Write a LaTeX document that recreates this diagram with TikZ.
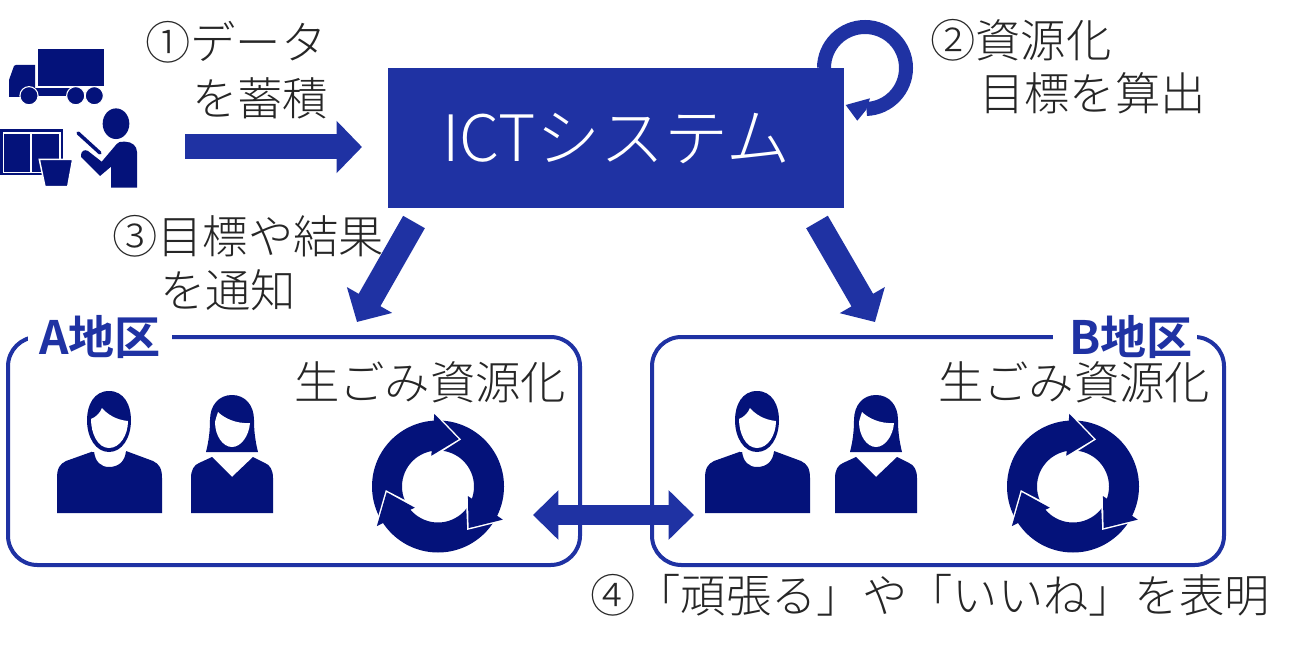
\documentclass[tikz,border=0pt]{standalone}
\usepackage{fontspec}
\usetikzlibrary{arrows.meta}
\setmainfont[BoldFont={Noto Sans CJK JP Bold}]{Noto Sans CJK JP Light}
\definecolor{iconnavy}{HTML}{04127A}
\definecolor{flowblue}{HTML}{1F32A3}
\definecolor{inkgrey}{HTML}{262626}
\tikzset{
  x=0.75pt,y=-0.75pt,
  caption/.style={anchor=west,inner sep=0pt,text=inkgrey,font=\fontsize{34}{40}\selectfont},
  blockarrow/.style={draw=flowblue,line width=18.75pt,-{Triangle[length=19pt,width=38pt]}},
  blockboth/.style={draw=flowblue,line width=15.5pt,{Triangle[length=19pt,width=36pt]}-{Triangle[length=19pt,width=36pt]}},
  district/.style={draw=flowblue,line width=3pt,rounded corners=22pt},
  districttag/.style={fill=white,inner sep=0pt,minimum width=108pt,minimum height=30pt,text=flowblue,font=\bfseries\fontsize{34.5}{40}\selectfont},
  icon/.style={fill=iconnavy,draw=none},
  cutline/.style={draw=white,line width=1.1pt,fill=iconnavy,line join=miter}
}
% Man and woman figures drawn at their place in the left district
\newcommand{\manfigure}{%
  \path[icon] (57,513) -- (57,478) .. controls (57,468) and (60,464) .. (66,461) -- (94,451)
    .. controls (95,462) and (101,467) .. (109,467) .. controls (118,467) and (125,462) .. (126,451)
    -- (153,461) .. controls (159,464) and (162,468) .. (162,478) -- (162,513) -- cycle;
  \path[fill=white] (92,446) rectangle (126,452);
  \path[icon] (109,391) .. controls (124,391) and (131,405) .. (131,420)
    .. controls (131,438) and (122,452) .. (109,452) .. controls (96,452) and (87,438) .. (87,420)
    .. controls (87,405) and (94,391) .. (109,391) -- cycle;
  \path[fill=white] (91,419) .. controls (96,417) and (100,413) .. (102,408)
    .. controls (107,414) and (116,420) .. (128,421) .. controls (128,435) and (120,448) .. (109,448)
    .. controls (98,448) and (91,434) .. (91,419) -- cycle;
}
\newcommand{\womanfigure}{%
  \path[icon] (191,513) -- (191,478) .. controls (191,470) and (194,465) .. (199,463) -- (212,457)
    -- (232,477) -- (253,457) -- (265,463) .. controls (270,465) and (273,470) .. (273,478) -- (273,513) -- cycle;
  \path[icon] (206,452) .. controls (209,440) and (210,430) .. (210,420)
    .. controls (210,405) and (219,395) .. (232,395) .. controls (245,395) and (254,405) .. (254,420)
    .. controls (254,430) and (255,440) .. (258,452) -- cycle;
  \path[fill=white] (215,422) .. controls (216,418) and (217,415) .. (218,412)
    .. controls (224,418) and (236,424) .. (250,423) .. controls (249,436) and (241,447) .. (232,447)
    .. controls (223,447) and (215,436) .. (215,422) -- cycle;
}
% Ring of three chasing arrows around a local origin
\newcommand{\cycleicon}{%
  \path[icon,even odd rule] (0,0) circle[radius=49.5pt] (0,0) circle[radius=27pt];
  \foreach \turn in {0,-120,-240}{
    \begin{scope}[rotate=\turn]
      \draw[white,line width=2.2pt,line join=miter] (-5,-74) -- (20.7,-47.3) -- (-8,-29);
      \path[icon] (-3.7,-72.7) -- (20.7,-47.3) -- (-6.7,-30.7) -- cycle;
    \end{scope}
  }
}
\begin{document}
\begin{tikzpicture}
\useasboundingbox (0,0) rectangle (1299,652);

% Delivery truck
\path[icon] (37.7,49) rectangle (104,85.7);
\path[icon] (9,97) -- (9,80) -- (14,66) -- (16,65) -- (35,65) -- (35,97) -- cycle;
\path[icon] (35,88) rectangle (72,96);
\foreach \wx in {29,75.7,94.3}
  \draw[icon,draw=white,line width=0.8pt] (\wx,95.7) circle[radius=6.8pt];

% Shelf, bucket and worker with a pointer
\path[icon] (0,129) rectangle (62.7,175);
\draw[white,line width=1.1pt] (3.6,133) rectangle (60,172.4) (31,133) -- (31,172.4);
\path[cutline] (39.3,159.3) -- (72.7,159.3) -- (67.7,186.7) -- (45,186.7) -- cycle;
\path[icon] (116,123.7) ellipse[x radius=10pt,y radius=11.5pt];
\path[icon] (111,187.7) -- (137,187.7) -- (137,152) .. controls (137,146) and (132,141.7) .. (125,141.7)
  .. controls (120,141.7) and (118,142) .. (116.7,144) -- (101.7,161.7) -- (88,151)
  .. controls (85,149) and (81,151) .. (81,155) -- (81,157) -- (100,176) -- (111,166.7) -- cycle;
\draw[iconnavy,line width=2.6pt,line cap=round] (78,133) -- (100,153);

% Central system block
\node[fill=flowblue,minimum width=342pt,minimum height=105pt,inner sep=0pt,anchor=north west,
      text=white,font=\fontsize{48}{56}\selectfont] (ict) at (388,68) {ICTシステム};

% District frames with their headings
\draw[district] (8,337) rectangle (580,565);
\draw[district] (652,337) rectangle (1224,565);
\node[districttag,anchor=center] (taga) at (100,337) {A地区};
\node[districttag,anchor=center] (tagb) at (1125,337) {\hspace{9pt}B地区};

\manfigure
\womanfigure
\begin{scope}[shift={(438,486.5)}]\cycleicon\end{scope}
\begin{scope}[shift={(648,0)}]\manfigure\end{scope}
\begin{scope}[shift={(644,0)}]\womanfigure\end{scope}
\begin{scope}[shift={(1073,486.5)}]\cycleicon\end{scope}

% Flow arrows
\coordinate (dataout) at (185,147);
\coordinate (datain) at (362,147);
\draw[blockarrow] (dataout) -- (datain);
\coordinate (downla) at (414,222);
\coordinate (downlb) at (357,322);
\draw[blockarrow] (downla) -- (downlb);
\coordinate (downra) at (817,222);
\coordinate (downrb) at (875,322);
\draw[blockarrow] (downra) -- (downrb);
\coordinate (shareA) at (533,515);
\coordinate (shareB) at (694,515);
\draw[blockboth] (shareA) -- (shareB);

% Loop over the corner of the block
\draw[flowblue,line width=10.5pt]
  (824,68) arc[start angle=180,end angle=-88,radius=30.75pt];
\fill[flowblue] (845.7,105) -- (870,98.3) -- (866,110) -- (857.3,120.7) -- cycle;

% Captions
\node[caption] (c1a) at (145,42) {①データ};
\node[caption] (c1b) at (192,98) {を蓄積};
\node[caption] (c2a) at (930,40) {②資源化};
\node[caption] (c2b) at (979,93) {目標を算出};
\node[caption] (c3a) at (112,236) {③目標や結果};
\node[caption] (c3b) at (160,290) {を通知};
\node[caption] (wa) at (294,382) {生ごみ資源化};
\node[caption] (wb) at (938,382) {生ごみ資源化};
\node[caption] (c4) at (590,595) {④「頑張る」や「いいね」を表明};
\end{tikzpicture}
\end{document}
